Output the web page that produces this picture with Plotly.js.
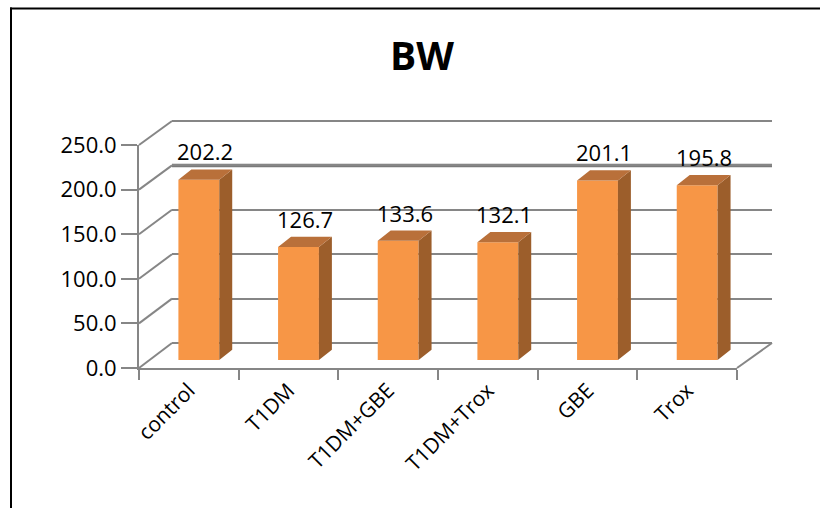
<!DOCTYPE html>
<html>
<head>
<meta charset="utf-8">
<script src="https://cdn.plot.ly/plotly-3.0.1.min.js"></script>
<style>html,body{margin:0;padding:0;background:#fff;}#chart{width:820px;height:508px;}</style>
</head>
<body>
<div id="chart"></div>
<script>
// ---- data ----
const categories = ["control", "T1DM", "T1DM+GBE", "T1DM+Trox", "GBE", "Trox"];
const values = [202.2, 126.7, 133.6, 132.1, 201.1, 195.8];
const yTicks = [0, 50, 100, 150, 200, 250];
const yTickText = yTicks.map(v => v.toFixed(1));
const titleText = "BW";

// ---- geometry (pixel layout of the pseudo-3D box) ----
const W = 820, H = 508;
const px = x => x / W, py = y => 1 - y / H;
const front = {x0: 139, x1: 737, yb: 368, yt: 145};   // front plane
const back  = {x0: 172, x1: 772, yb: 343, yt: 121};   // back wall
const barPlane = {x0: 149, x1: 747, yb: 360, yt: 137}; // bar front faces
const yMax = 250;
const pad = 2; // value-units of padding on the back wall so edge gridlines draw
const backScale = (back.yb - back.yt) / yMax;
const depthX = 0.13;   // bar depth in category units
const depthY = 11.5;   // bar depth in value units
const barW = 0.41;

const gray = "#868686";
const font = "Open Sans, Noto Sans, sans-serif";
const idx = categories.map((c, i) => i);

// side + top faces from the values
const sideX = [], sideY = [], topX = [], topY = [];
values.forEach((v, i) => {
  const r = i + barW / 2, l = i - barW / 2;
  sideX.push(r, r + depthX, r + depthX, r, r, null);
  sideY.push(0, depthY, v + depthY, v, 0, null);
  topX.push(l, l + depthX, r + depthX, r, l, null);
  topY.push(v, v + depthY, v + depthY, v, v, null);
});

const traces = [
  {x: [0, 1], y: [0, 0], xaxis: "x", yaxis: "y", mode: "markers", marker: {opacity: 0}, hoverinfo: "skip", showlegend: false},
  {type: "bar", x: idx, y: values, width: barW, xaxis: "x2", yaxis: "y2",
   marker: {color: "#F79646", line: {width: 0}}, hoverinfo: "skip", showlegend: false},
  {x: sideX, y: sideY, xaxis: "x2", yaxis: "y2", mode: "lines", fill: "toself",
   fillcolor: "#9C5E2B", line: {width: 0, color: "#9C5E2B"}, hoverinfo: "skip", showlegend: false},
  {x: topX, y: topY, xaxis: "x2", yaxis: "y2", mode: "lines", fill: "toself",
   fillcolor: "#B9703A", line: {width: 0, color: "#B9703A"}, hoverinfo: "skip", showlegend: false},
  {x: categories, y: values, xaxis: "x3", yaxis: "y3", mode: "markers", marker: {opacity: 0}, hoverinfo: "skip", showlegend: false}
];

const shapes = [];
const fy = (v, p) => py(p.yb - (p.yb - p.yt) * v / yMax);
yTicks.forEach(v => {
  shapes.push({type: "line", xref: "paper", yref: "paper", x0: px(front.x0), y0: fy(v, front),
    x1: px(back.x0), y1: fy(v, back), line: {color: gray, width: 2}, layer: "below"});
});
shapes.push({type: "line", xref: "paper", yref: "paper", x0: px(front.x1), y0: fy(0, front),
  x1: px(back.x1), y1: fy(0, back), line: {color: gray, width: 2}, layer: "below"});
// heavier 200 line on the back wall, as in the reference
shapes.push({type: "line", xref: "paper", yref: "y", x0: px(back.x0), y0: 200, x1: px(back.x1), y1: 200,
  line: {color: "#7a7a7a", width: 3.5}, layer: "below"});
// outer frame (top and left edges only visible)
shapes.push({type: "line", xref: "paper", yref: "paper", x0: px(10), y0: py(8.5), x1: 1, y1: py(8.5),
  line: {color: "#000", width: 2}, layer: "above"});
shapes.push({type: "line", xref: "paper", yref: "paper", x0: px(11), y0: py(7.5), x1: px(11), y1: 0,
  line: {color: "#000", width: 2}, layer: "above"});

const annotations = values.map((v, i) => ({
  x: i + depthX / 2, y: v + depthY, xref: "x2", yref: "y2", text: v.toFixed(1),
  showarrow: false, yanchor: "bottom", xanchor: "center", yshift: 1,
  font: {family: font, size: 22, color: "#000"}
}));

const layout = {
  width: W, height: H, margin: {l: 0, r: 0, t: 0, b: 0},
  paper_bgcolor: "#fff", plot_bgcolor: "rgba(0,0,0,0)", showlegend: false,
  title: {text: titleText, x: px(422), y: py(56), xanchor: "center", yanchor: "middle",
    xref: "paper", yref: "paper", font: {family: font, size: 39, weight: 700, color: "#000"}},
  xaxis: {domain: [px(back.x0), px(back.x1)], range: [0, 1], visible: false, anchor: "y", fixedrange: true},
  yaxis: {domain: [py(back.yb + pad * backScale), py(back.yt - pad * backScale)], range: [-pad, yMax + pad],
    tickvals: yTicks, showgrid: true, gridcolor: gray, gridwidth: 2, showticklabels: false,
    zeroline: false, showline: false, ticks: "", anchor: "x"},
  xaxis2: {domain: [px(barPlane.x0), px(barPlane.x1)], range: [-0.5, categories.length - 0.5], visible: false, anchor: "y2"},
  yaxis2: {domain: [py(barPlane.yb), py(barPlane.yt)], range: [0, yMax], visible: false, anchor: "x2"},
  xaxis3: {domain: [px(front.x0), px(front.x1)], type: "category", categoryarray: categories,
    range: [-0.5, categories.length - 0.5], tickson: "boundaries", ticks: "outside", ticklen: 10,
    tickcolor: gray, tickwidth: 2, showline: true, linecolor: gray, linewidth: 2, showgrid: false,
    tickangle: -45, tickfont: {family: font, size: 21, color: "#000"}, anchor: "y3"},
  yaxis3: {domain: [py(front.yb), py(front.yt)], range: [0, yMax], tickvals: yTicks, ticktext: yTickText,
    ticks: "outside", ticklen: 16, tickcolor: gray, tickwidth: 2, showline: true, linecolor: gray, linewidth: 2,
    showgrid: false, zeroline: false, tickfont: {family: font, size: 22, color: "#000"}, anchor: "x3"},
  shapes: shapes,
  annotations: annotations
};

Plotly.newPlot("chart", traces, layout, {displayModeBar: false, staticPlot: true});
</script>
</body>
</html>
